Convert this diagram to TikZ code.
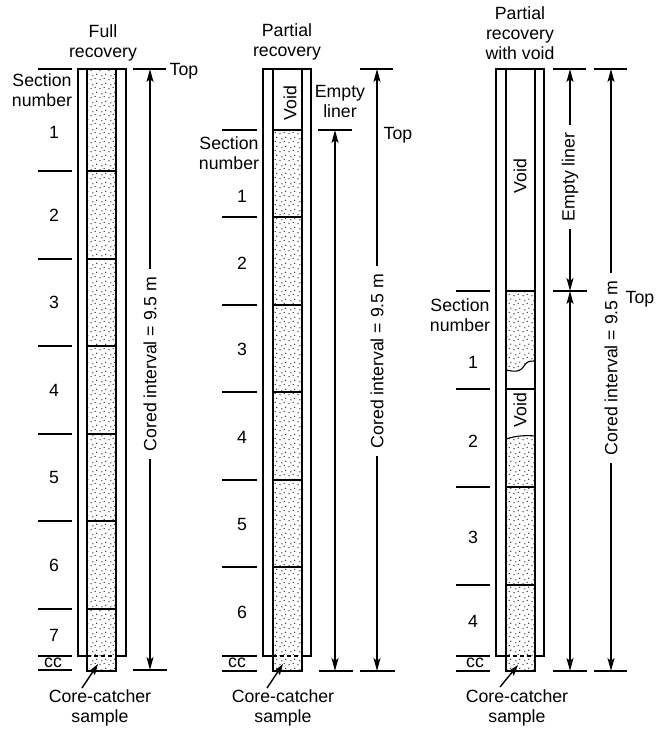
\documentclass[tikz,border=0pt]{standalone}
\usepackage{fontspec}
\setmainfont{Liberation Sans}
\usetikzlibrary{arrows.meta,patterns.meta}
\tikzdeclarepattern{
  name=stipple, type=uncolored,
  bottom left={(0pt,0pt)}, top right={(9pt,9pt)}, tile size={(9pt,9pt)},
  code={
    \fill (1.1pt,1.4pt) circle (0.7pt);
    \fill (5.6pt,2.9pt) circle (0.7pt);
    \fill (3.1pt,5.7pt) circle (0.7pt);
    \fill (7.4pt,7.5pt) circle (0.7pt);
  }}
\begin{document}
\begin{tikzpicture}[x=1pt,y=-1pt,
  txt/.style={font=\fontsize{17.7}{20}\selectfont, inner sep=0pt, align=center},
  wall/.style={line width=2pt},
  tk/.style={line width=1.9pt},
  dim/.style={line width=1.4pt, {Stealth[length=13pt,width=7pt,inset=3pt]}-{Stealth[length=13pt,width=7pt,inset=3pt]}},
  gap/.style={txt, fill=white, rotate=90, inner xsep=8pt, inner ysep=1pt},
  stip/.style={pattern=stipple, pattern color=black},
  cut/.style={line width=1.2pt, dash pattern=on 4pt off 3pt},
  ptr/.style={line width=1.4pt, -{Stealth[length=11pt,width=7pt,inset=2pt]}},
]
\useasboundingbox (0,0) rectangle (666,729);

% ===== Column 1: Full recovery =====
\draw[wall] (78,69) rectangle (126,656);
\fill[white] (87,69) rectangle (116,671);
\fill[stip] (87,69) rectangle (116,671);
\draw[wall] (87,69) rectangle (116,671);
\foreach \y in {171,259,346,434,521,609} \draw[wall] (87,\y) -- (116,\y);
\draw[cut] (87,656) -- (116,656);
\foreach \y in {69,171,259,346,434,521,609,656,670} \draw[tk] (38,\y) -- (72,\y);
\node[txt] (t1) at (103,43) {Full\\recovery};
\node[txt] (s1) at (42,90) {Section\\number};
\node[txt] (n11) at (54,132) {1};
\node[txt] (n12) at (54,215) {2};
\node[txt] (n13) at (54,302) {3};
\node[txt] (n14) at (54,390) {4};
\node[txt] (n15) at (54,477) {5};
\node[txt] (n16) at (54,565) {6};
\node[txt] (n17) at (54,635) {7};
\node[txt] (cc1) at (53,663) {cc};
\coordinate (a1t) at (150,69);
\coordinate (a1b) at (150,670);
\draw[tk] (133,69) -- (166,69);
\draw[tk] (133,670) -- (167,670);
\draw[dim] (a1t) -- (a1b);
\node[gap] (d1) at (150,364) {Cored interval = 9.5 m};
\node[txt] (top1) at (184,71) {Top};
\node[txt] (cs1) at (100,708) {Core-catcher\\sample};
\coordinate (p1) at (98,664);
\draw[ptr] (82,688) -- (p1);

% ===== Column 2: Partial recovery =====
\draw[wall] (263,69) rectangle (311,656);
\fill[white] (273,69) rectangle (302,671);
\fill[stip] (273,130) rectangle (302,671);
\draw[wall] (273,69) rectangle (302,671);
\foreach \y in {130,217,305,392,480,567} \draw[wall] (273,\y) -- (302,\y);
\draw[cut] (273,656) -- (302,656);
\foreach \y in {130,217,305,392,480,567,656,671} \draw[tk] (222,\y) -- (257,\y);
\node[txt] (t2) at (287,42) {Partial\\recovery};
\node[txt, rotate=90] (v2) at (290,103) {Void};
\node[txt] (s2) at (229,153) {Section\\number};
\node[txt] (n21) at (242,196) {1};
\node[txt] (n22) at (242,263) {2};
\node[txt] (n23) at (242,349) {3};
\node[txt] (n24) at (242,437) {4};
\node[txt] (n25) at (242,524) {5};
\node[txt] (n26) at (242,612) {6};
\node[txt] (cc2) at (237,663) {cc};
\draw[tk] (318,130) -- (352,130);
\draw[tk] (360,69) -- (393,69);
\draw[tk] (319,671) -- (353,671);
\draw[tk] (360,671) -- (395,671);
\coordinate (e2t) at (335,130);
\coordinate (e2b) at (335,671);
\coordinate (a2t) at (377,69);
\coordinate (a2b) at (377,671);
\draw[dim] (e2t) -- (e2b);
\draw[dim] (a2t) -- (a2b);
\node[gap] (d2) at (377,361) {Cored interval = 9.5 m};
\node[txt] (el2) at (340,101) {Empty\\liner};
\node[txt] (top2) at (398,135) {Top};
\node[txt] (cs2) at (283,708) {Core-catcher\\sample};
\coordinate (p2) at (283,664);
\draw[ptr] (267,688) -- (p2);

% ===== Column 3: Partial recovery with void =====
\draw[wall] (496,69) rectangle (544,656);
\fill[white] (506,69) rectangle (535,671);
\fill[stip] (506,291) -- (535,291) -- (535,361) .. controls (530,361) and (527,361) .. (524,366) .. controls (520,372) and (516,372) .. (506,370) -- cycle;
\fill[stip] (506,439) .. controls (515,436) and (525,435) .. (535,436) -- (535,671) -- (506,671) -- cycle;
\draw[wall] (506,69) rectangle (535,671);
\draw[wall] (506,291) -- (535,291);
\draw[line width=1.1pt] (535,361) .. controls (530,361) and (527,361) .. (524,366) .. controls (520,372) and (516,372) .. (506,370);
\draw[line width=1.1pt] (506,439) .. controls (515,436) and (525,435) .. (535,436);
\foreach \y in {389,487,585} \draw[wall] (506,\y) -- (535,\y);
\draw[cut] (506,656) -- (535,656);
\foreach \y in {291,389,487,585,656,671} \draw[tk] (456,\y) -- (490,\y);
\node[txt] (t3) at (520,33) {Partial\\recovery\\with void};
\node[txt, rotate=90] (v3a) at (520,176) {Void};
\node[txt, rotate=90] (v3b) at (520,410) {Void};
\node[txt] (s3) at (460,315) {Section\\number};
\node[txt] (n31) at (473,362) {1};
\node[txt] (n32) at (473,441) {2};
\node[txt] (n33) at (473,537) {3};
\node[txt] (n34) at (473,621) {4};
\node[txt] (cc3) at (475,663) {cc};
\draw[tk] (553,69) -- (586,69);
\draw[tk] (594,69) -- (627,69);
\draw[tk] (553,291) -- (587,291);
\draw[tk] (553,671) -- (587,671);
\draw[tk] (594,671) -- (627,671);
\coordinate (e3t) at (570,69);
\coordinate (e3m) at (570,291);
\coordinate (e3b) at (570,671);
\coordinate (a3t) at (611,69);
\coordinate (a3b) at (611,671);
\draw[dim] (e3t) -- (e3m);
\draw[dim] (e3m) -- (e3b);
\draw[dim] (a3t) -- (a3b);
\node[gap] (el3) at (570,177) {Empty liner};
\node[gap] (d3) at (611,368) {Cored interval = 9.5 m};
\node[txt] (top3) at (640,299) {Top};
\node[txt] (cs3) at (517,708) {Core-catcher\\sample};
\coordinate (p3) at (518,665);
\draw[ptr] (500,687) -- (p3);
\end{tikzpicture}
\end{document}
